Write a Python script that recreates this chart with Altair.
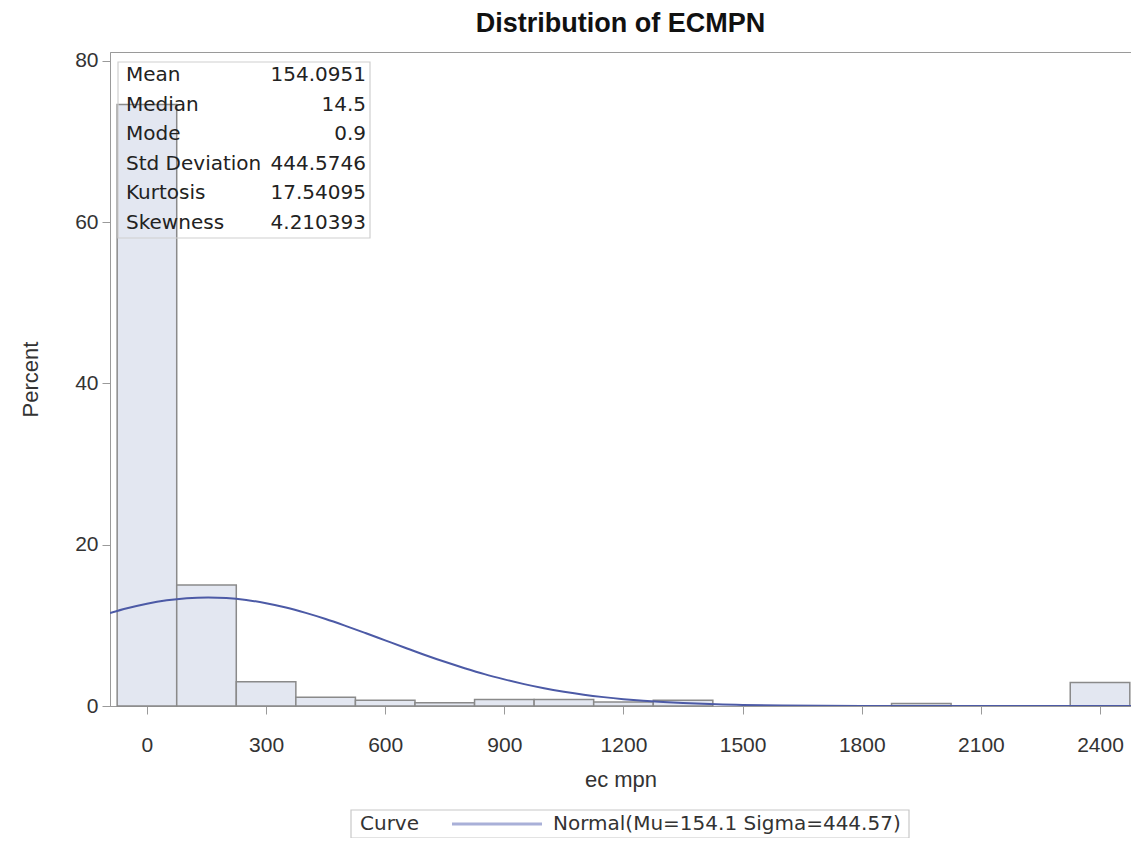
import altair as alt
import pandas as pd

# ---- data ----
bin_centers = [0, 150, 300, 450, 600, 750, 900, 1050, 1200, 1350, 1950, 2400]
bin_percent = [74.6, 15.0, 3.0, 1.1, 0.7, 0.4, 0.8, 0.8, 0.5, 0.7, 0.3, 2.9]
bin_width = 150

curve_x = [-93, -50, 0, 50, 100, 154, 200, 250, 300, 350, 400, 450, 500, 550, 600,
           650, 700, 750, 800, 850, 900, 950, 1000, 1050, 1100, 1150, 1200, 1250,
           1300, 1350, 1400, 1450, 1500, 1600, 1700, 1800, 1900, 2000, 2200, 2478]
curve_y = [11.53, 12.11, 12.68, 13.10, 13.36, 13.46, 13.39, 13.15, 12.75, 12.22, 11.55,
           10.79, 9.94, 9.05, 8.14, 7.23, 6.33, 5.48, 4.69, 3.95, 3.30, 2.71, 2.20,
           1.77, 1.40, 1.10, 0.85, 0.645, 0.486, 0.361, 0.265, 0.192, 0.138, 0.068,
           0.032, 0.014, 0.006, 0.0024, 0.0003, 0.0]
curve_name = "Normal(Mu=154.1 Sigma=444.57)"
legend_title = "Curve"

stat_labels = ["Mean", "Median", "Mode", "Std Deviation", "Kurtosis", "Skewness"]
stat_values = ["154.0951", "14.5", "0.9", "444.5746", "17.54095", "4.210393"]

x_ticks = [0, 300, 600, 900, 1200, 1500, 1800, 2100, 2400]
y_ticks = [0, 20, 40, 60, 80]

FONT = "Liberation Sans"
WIDE = "DejaVu Sans"
GRAY = "#9a9a9a"
TXT = "#333333"
CURVE_COLOR = "#4C5AA6"

bars_df = pd.DataFrame({"center": bin_centers, "pct": bin_percent})
curve_df = pd.DataFrame({"x": curve_x, "y": curve_y})

xscale = alt.Scale(domain=[-93, 2478], nice=False, zero=False)
yscale = alt.Scale(domain=[0, 81.1], nice=False)

xaxis = alt.Axis(values=x_ticks, format="d", title="ec mpn", labelFontSize=21,
                 titleFontSize=22, titleFontWeight="normal", tickSize=8,
                 labelPadding=20, titlePadding=14,
                 labelFont=FONT, titleFont=FONT, labelColor=TXT, titleColor=TXT,
                 domainColor=GRAY, tickColor=GRAY, grid=False)
yaxis = alt.Axis(values=y_ticks, title="Percent", labelFontSize=21, titleFontSize=22,
                 titleFontWeight="normal", tickSize=8, labelPadding=4, titlePadding=32,
                 labelFont=FONT, titleFont=FONT, labelColor=TXT, titleColor=TXT,
                 domainColor=GRAY, tickColor=GRAY, grid=False)

bars = alt.Chart(bars_df).transform_calculate(
    lo=f"datum.center - {bin_width}/2", hi=f"datum.center + {bin_width}/2"
).mark_rect(fill="#E3E7F1", stroke="#8a8a8a", strokeWidth=1.5).encode(
    x=alt.X("lo:Q", scale=xscale, axis=xaxis),
    x2="hi:Q",
    y=alt.Y("pct:Q", scale=yscale, axis=yaxis),
    y2=alt.datum(0),
)

curve = alt.Chart(curve_df).mark_line(
    strokeWidth=2, interpolate="monotone", clip=True, color=CURVE_COLOR
).encode(
    x=alt.X("x:Q", scale=xscale),
    y=alt.Y("y:Q", scale=yscale),
)

one = pd.DataFrame({"k": [0]})

# statistics inset
box = alt.Chart(one).mark_rect(
    fill="white", fillOpacity=0, stroke="#cfcfcf", strokeWidth=1.2
).encode(x=alt.value(8), x2=alt.value(260), y=alt.value(10), y2=alt.value(186))

lab_text = alt.Chart(pd.DataFrame({"t": ["\n".join(stat_labels)]})).mark_text(
    align="left", baseline="top", fontSize=20, font=WIDE, color="#222",
    lineHeight=29.5, lineBreak="\n"
).encode(x=alt.value(16), y=alt.value(13), text="t:N")

val_text = alt.Chart(pd.DataFrame({"t": ["\n".join(stat_values)]})).mark_text(
    align="right", baseline="top", fontSize=20, font=WIDE, color="#222",
    lineHeight=29.5, lineBreak="\n"
).encode(x=alt.value(256), y=alt.value(13), text="t:N")

# bottom legend (drawn manually)
leg_box = alt.Chart(one).mark_rect(
    fill="white", stroke="#c8c8c8", strokeWidth=1.2
).encode(x=alt.value(241), x2=alt.value(799), y=alt.value(758), y2=alt.value(786))

leg_title = alt.Chart(pd.DataFrame({"t": [legend_title]})).mark_text(
    align="left", baseline="middle", fontSize=20, font=WIDE, color=TXT
).encode(x=alt.value(250), y=alt.value(772), text="t:N")

leg_line = alt.Chart(one).mark_rule(color="#a9b0d8", strokeWidth=3).encode(
    x=alt.value(342), x2=alt.value(432), y=alt.value(772)
)

leg_label = alt.Chart(pd.DataFrame({"t": [curve_name]})).mark_text(
    align="left", baseline="middle", fontSize=20, font=WIDE, color=TXT
).encode(x=alt.value(443), y=alt.value(772), text="t:N")

chart = alt.layer(
    bars, curve, box, lab_text, val_text, leg_box, leg_title, leg_line, leg_label
).properties(
    width=1021, height=654,
    padding={"left": 102, "top": 44, "right": 0, "bottom": 132},
    autosize=alt.AutoSizeParams(type="none"),
    title=alt.Title("Distribution of ECMPN", fontSize=27, fontWeight="bold",
                    font=FONT, color="#111", anchor="middle", offset=12),
).configure_view(stroke=GRAY, strokeWidth=1)

chart.save("out.html", embed_options={"renderer": "svg", "actions": False})
